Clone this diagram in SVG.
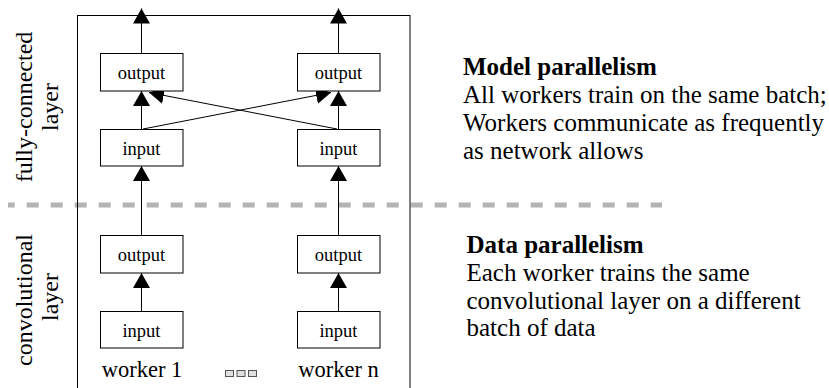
<svg xmlns="http://www.w3.org/2000/svg" width="829" height="388" viewBox="0 0 829 388">
<defs>
<style>
text{font-family:"Liberation Serif","Times New Roman",serif;fill:#000}
.box{fill:#fff;stroke:#000;stroke-width:1}
.lbl{font-size:18.5px;text-anchor:middle}
.wk{font-size:22.5px;text-anchor:middle}
.side{font-size:24px;text-anchor:middle}
.h{font-size:25px;font-weight:bold}
.b{font-size:25px}
.edge{stroke:#000;stroke-width:1;fill:none;marker-end:url(#ah)}
.dots{fill:#e0e0e0;stroke:#555;stroke-width:1}
</style>
<marker id="ah" markerUnits="userSpaceOnUse" markerWidth="16" markerHeight="18" refX="15" refY="8.5" orient="auto" viewBox="0 0 16 18">
<path d="M0,0 L15,8.5 L0,17 z" fill="#000"/>
</marker>
</defs>
<rect width="829" height="388" fill="#fff"/>
<line x1="8" y1="205" x2="662" y2="205" stroke="#b3b3b3" stroke-width="5" stroke-dasharray="12 12" stroke-dashoffset="5.3"/>
<rect x="77.5" y="15.5" width="332.5" height="390" fill="none" stroke="#000" stroke-width="1"/>
<g id="labels-side">
<text class="side" transform="rotate(-90)" x="-107" y="31.5">fully-connected</text>
<text class="side" transform="rotate(-90)" x="-107" y="58">layer</text>
<text class="side" transform="rotate(-90)" x="-300" y="31.5">convolutional</text>
<text class="side" transform="rotate(-90)" x="-297" y="58">layer</text>
</g>
<g id="connectors">
<line class="edge" x1="141.5" y1="53" x2="141.5" y2="8.5"/>
<line class="edge" x1="338.5" y1="53" x2="338.5" y2="8.5"/>
<line class="edge" x1="141.5" y1="129" x2="141.5" y2="91"/>
<line class="edge" x1="338.5" y1="129" x2="338.5" y2="91"/>
<line class="edge" x1="143" y1="129" x2="331" y2="92.5"/>
<line class="edge" x1="337" y1="129" x2="149" y2="92.5"/>
<line class="edge" x1="141.5" y1="235" x2="141.5" y2="166"/>
<line class="edge" x1="338.5" y1="235" x2="338.5" y2="166"/>
<line class="edge" x1="141.5" y1="311" x2="141.5" y2="273"/>
<line class="edge" x1="338.5" y1="311" x2="338.5" y2="273"/>
</g>
<g id="fc-out-1"><rect class="box" x="100.5" y="53.5" width="82.5" height="37.5"/><text class="lbl" x="141.5" y="79">output</text></g>
<g id="fc-out-n"><rect class="box" x="297.5" y="53.5" width="82.5" height="37.5"/><text class="lbl" x="338.5" y="79">output</text></g>
<g id="fc-in-1"><rect class="box" x="100.5" y="129.5" width="82.5" height="36.5"/><text class="lbl" x="141.5" y="154.5">input</text></g>
<g id="fc-in-n"><rect class="box" x="297.5" y="129.5" width="82.5" height="36.5"/><text class="lbl" x="338.5" y="154.5">input</text></g>
<g id="conv-out-1"><rect class="box" x="100.5" y="235.5" width="82.5" height="37.5"/><text class="lbl" x="141.5" y="261">output</text></g>
<g id="conv-out-n"><rect class="box" x="297.5" y="235.5" width="82.5" height="37.5"/><text class="lbl" x="338.5" y="261">output</text></g>
<g id="conv-in-1"><rect class="box" x="100.5" y="311.5" width="82.5" height="36.5"/><text class="lbl" x="141.5" y="336.5">input</text></g>
<g id="conv-in-n"><rect class="box" x="297.5" y="311.5" width="82.5" height="36.5"/><text class="lbl" x="338.5" y="336.5">input</text></g>
<g id="workers">
<text class="wk" x="142" y="377">worker 1</text>
<text class="wk" x="338.5" y="377">worker n</text>
<rect class="dots" x="225.5" y="370.5" width="8" height="6"/>
<rect class="dots" x="237" y="370.5" width="8" height="6"/>
<rect class="dots" x="248.5" y="370.5" width="8" height="6"/>
</g>
<g id="model-text">
<text class="h" x="463" y="74.5">Model parallelism</text>
<text class="b" x="463" y="102.5">All workers train on the same batch;</text>
<text class="b" x="463" y="130.5">Workers communicate as frequently</text>
<text class="b" x="463" y="158.5">as network allows</text>
</g>
<g id="data-text">
<text class="h" x="466.5" y="253">Data parallelism</text>
<text class="b" x="466.5" y="280.5">Each worker trains the same</text>
<text class="b" x="466.5" y="308.5">convolutional layer on a different</text>
<text class="b" x="466.5" y="336">batch of data</text>
</g>
</svg>
